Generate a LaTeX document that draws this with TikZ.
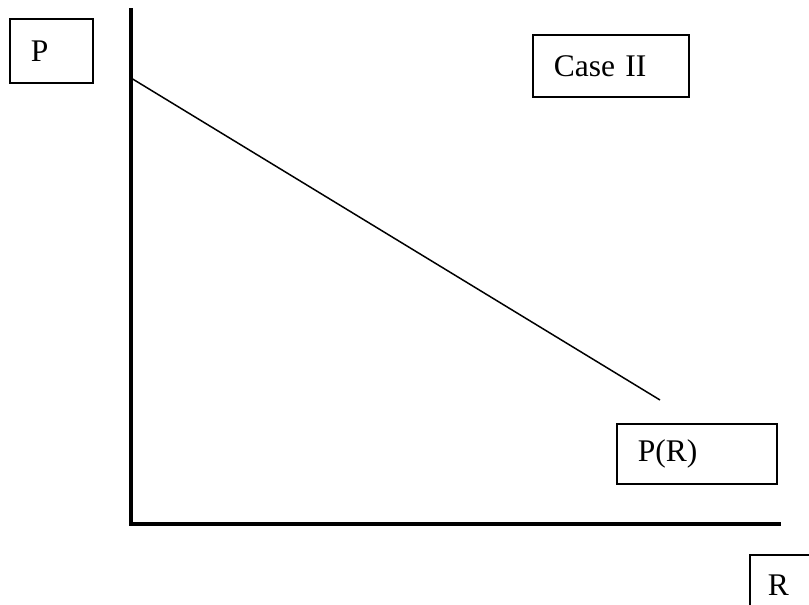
\documentclass[tikz,border=0pt]{standalone}
\usepackage{fontspec}
\setmainfont{Liberation Serif}
\begin{document}
\begin{tikzpicture}[x=0.5pt,y=-0.5pt,
  lbl/.style={draw, line width=0.75pt, align=left, text width=#1,
    inner xsep=10.5pt, inner ysep=0pt, anchor=north west,
    font=\fontsize{15.75}{19}\selectfont},
  axis/.style={line width=2pt},
  curve/.style={line width=0.75pt}]
\useasboundingbox (0,0) rectangle (809,605);
\clip (0,0) rectangle (809,605);
% axes
\coordinate (top) at (131,8);
\coordinate (origin) at (131,524);
\coordinate (xend) at (781,524);
\draw[axis] (top) -- (origin.center) -- (xend);
% line P(R)
\coordinate (p0) at (131,78);
\coordinate (p1) at (660,400);
\draw[curve] (p0) -- (p1);
% labels
\node[lbl=20.5pt, minimum height=32pt] (P) at (9,18) {P};
\node[lbl=57pt, minimum height=31pt] (case) at (532,34) {Case II};
\node[lbl=59pt, minimum height=30pt] (PR) at (616,423) {P(R)};
\node[lbl=12pt, minimum height=30pt, inner xsep=9pt] (R) at (749,554) {R};
\end{tikzpicture}
\end{document}
